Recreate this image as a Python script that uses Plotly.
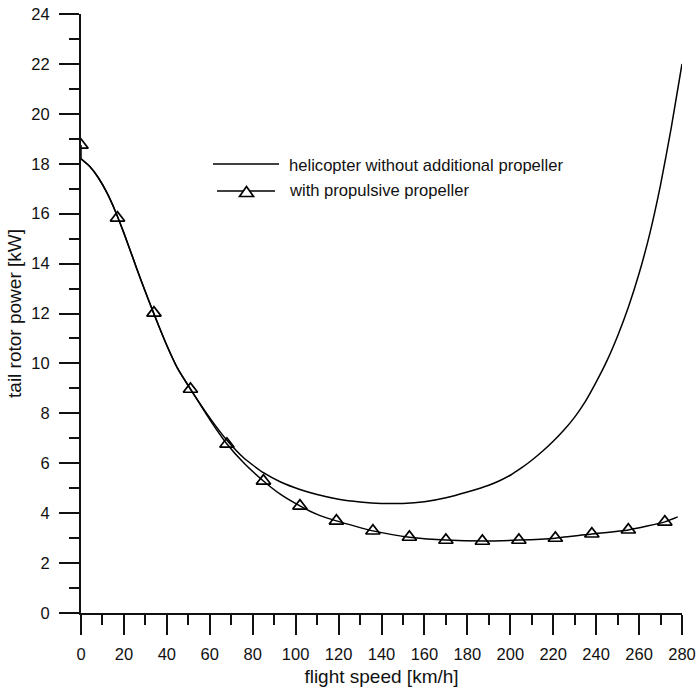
import plotly.graph_objects as go

# Helicopter without additional propeller (solid line)
speed_heli = [0, 4, 8, 12, 16, 20, 24, 28, 32, 36, 40, 45, 51, 60, 68, 76, 85, 93, 102, 110,
              120, 130, 140, 150, 160, 170, 180, 190, 195, 200, 205, 210, 215, 220, 225, 230,
              235, 240, 245, 250, 255, 260, 265, 270, 275, 280]
power_heli = [18.2, 17.9, 17.45, 16.85, 16.1, 15.22, 14.27, 13.32, 12.42, 11.55, 10.72, 9.8,
              8.97, 7.82, 6.92, 6.2, 5.62, 5.25, 4.95, 4.75, 4.56, 4.45, 4.39, 4.39, 4.46,
              4.62, 4.85, 5.12, 5.3, 5.52, 5.8, 6.12, 6.48, 6.88, 7.33, 7.85, 8.48, 9.25,
              10.1, 11.1, 12.25, 13.6, 15.2, 17.15, 19.45, 22.0]

# With propulsive propeller (line through markers)
speed_prop_line = [0, 4, 8, 12, 16, 20, 24, 28, 32, 36, 40, 45, 51, 60, 68, 76, 85, 93, 102,
                   110, 119, 128, 136, 145, 153, 170, 187, 204, 221, 238, 255, 272, 278]
power_prop_line = [18.2, 17.9, 17.45, 16.85, 16.1, 15.22, 14.27, 13.32, 12.42, 11.55, 10.72,
                   9.8, 8.97, 7.75, 6.77, 6.0, 5.29, 4.75, 4.29, 3.95, 3.69, 3.47, 3.29, 3.14,
                   3.04, 2.92, 2.88, 2.92, 3.0, 3.17, 3.33, 3.65, 3.85]
speed_prop_marks = [0, 17, 34, 51, 68, 85, 102, 119, 136, 153, 170, 187, 204, 221, 238, 255, 272]
power_prop_marks = [18.75, 15.83, 12.02, 8.97, 6.77, 5.29, 4.29, 3.69, 3.29, 3.04, 2.92, 2.88,
                    2.92, 3.0, 3.17, 3.33, 3.65]

x_ticks = list(range(0, 281, 20))
y_ticks = list(range(0, 25, 2))
legend_labels = ["helicopter without additional propeller", "with propulsive propeller"]

FONT = "Liberation Sans, Arial, sans-serif"
INK = "#111111"
LW = 1.5

fig = go.Figure()
fig.add_trace(go.Scatter(
    x=speed_heli, y=power_heli, mode="lines",
    line=dict(color="black", width=LW, shape="spline", smoothing=0.5),
    name=legend_labels[0], showlegend=False))
fig.add_trace(go.Scatter(
    x=speed_prop_line, y=power_prop_line, mode="lines",
    line=dict(color="black", width=LW, shape="spline", smoothing=0.5),
    name=legend_labels[1], showlegend=False))
# short joining stroke from the first marker down to the start of the curve
fig.add_trace(go.Scatter(
    x=[speed_prop_marks[0], speed_prop_line[0]], y=[power_prop_marks[0], power_prop_line[0]],
    mode="lines", line=dict(color="black", width=LW), showlegend=False, hoverinfo="skip"))
fig.add_trace(go.Scatter(
    x=speed_prop_marks, y=power_prop_marks, mode="markers",
    marker=dict(symbol="triangle-up-open", size=12.5, color="black",
                line=dict(width=1.7, color="black")),
    name=legend_labels[1], showlegend=False))

axis_common = dict(
    showgrid=False, zeroline=False, showline=True, linecolor=INK, linewidth=2,
    ticks="outside", ticklen=20, tickwidth=2, tickcolor=INK,
    tickfont=dict(family=FONT, size=16.5, color=INK),
    title_font=dict(family=FONT, size=19, color=INK),
    automargin=False,
)
fig.update_xaxes(range=[0, 280], tickvals=x_ticks, title_text="flight speed [km/h]",
                 minor=dict(dtick=10, ticklen=10, tickwidth=2, tickcolor=INK, ticks="outside"),
                 ticklabelstandoff=5, title_standoff=8, **axis_common)
fig.update_yaxes(range=[0, 24], tickvals=y_ticks, title_text="tail rotor power [kW]",
                 minor=dict(dtick=1, ticklen=10, tickwidth=2, tickcolor=INK, ticks="outside"),
                 ticklabelstandoff=6, title_standoff=5, **axis_common)

# Legend drawn in the plot's paper coordinates
PL, PR, PT, PB = 81, 682, 14, 613
def px(xp):
    return (xp - PL) / (PR - PL)
def py(yp):
    return (PB - yp) / (PB - PT)

shapes = [
    dict(type="line", xref="paper", yref="paper", x0=px(213), x1=px(279), y0=py(164), y1=py(164),
         line=dict(color="black", width=LW)),
    dict(type="line", xref="paper", yref="paper", x0=px(217), x1=px(275), y0=py(191), y1=py(191),
         line=dict(color="black", width=LW)),
    dict(type="path", xref="paper", yref="paper",
         path=f"M{px(239.5)},{py(196.5)} L{px(246.5)},{py(186.5)} L{px(253.5)},{py(196.5)} Z",
         fillcolor="white", line=dict(color="black", width=1.7)),
]
annotations = [
    dict(xref="paper", yref="paper", x=px(287), y=py(165), text=legend_labels[0],
         xanchor="left", yanchor="middle", showarrow=False,
         font=dict(family=FONT, size=16.6, color=INK)),
    dict(xref="paper", yref="paper", x=px(287), y=py(190), text=legend_labels[1],
         xanchor="left", yanchor="middle", showarrow=False,
         font=dict(family=FONT, size=16.6, color=INK)),
]

fig.update_layout(
    width=698, height=693,
    margin=dict(l=PL, r=698 - PR, t=PT, b=693 - PB),
    paper_bgcolor="white", plot_bgcolor="white",
    font=dict(family=FONT, size=16, color=INK),
    showlegend=False,
    shapes=shapes, annotations=annotations,
)

fig.write_html("out.html")
